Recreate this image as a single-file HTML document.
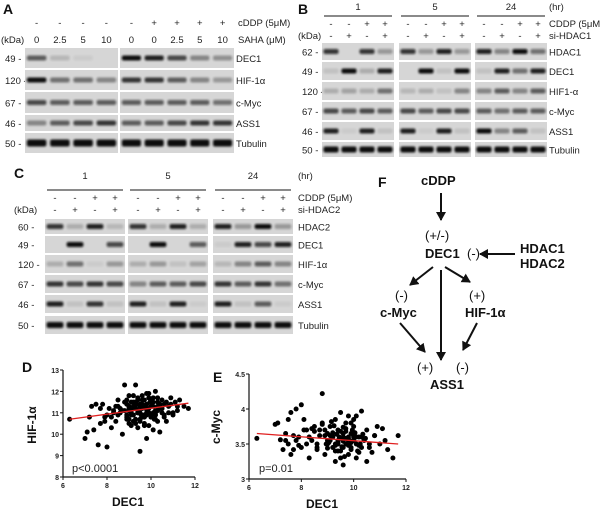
<!DOCTYPE html>
<html><head><meta charset="utf-8">
<style>
html,body{margin:0;padding:0;background:#fff;}
svg{display:block;font-family:"Liberation Sans",sans-serif;}
.t{font-size:9.5px;fill:#222;}
.l{font-size:14px;font-weight:bold;fill:#111;}
.f{font-size:13px;font-weight:bold;fill:#111;}
</style></head>
<body>
<svg id="fig" width="600" height="519" viewBox="0 0 600 519">
<defs>
<filter id="blur" x="-20%" y="-50%" width="140%" height="200%"><feGaussianBlur stdDeviation="1.1"/></filter>
<marker id="arr" markerUnits="userSpaceOnUse" markerWidth="10" markerHeight="10" refX="8" refY="5" orient="auto"><path d="M0,0 L9,5 L0,10 z" fill="#111"/></marker>
</defs>
<g id="blots"></g>
<g id="scatterD"></g>
<g id="scatterE"></g>
<g id="diagram">
<text class="l" x="378" y="187">F</text>
<text class="f" x="421" y="185">cDDP</text>
<line x1="441" y1="193" x2="441" y2="220" stroke="#111" stroke-width="2" marker-end="url(#arr)"/>
<text class="f" x="425" y="240" style="font-weight:normal">(+/-)</text>
<text class="f" x="425" y="258">DEC1</text>
<text class="f" x="467" y="258" style="font-weight:normal">(-)</text>
<line x1="515" y1="254" x2="480" y2="254" stroke="#111" stroke-width="2" marker-end="url(#arr)"/>
<text class="f" x="520" y="253">HDAC1</text>
<text class="f" x="520" y="268">HDAC2</text>
<line x1="433" y1="267" x2="410" y2="285" stroke="#111" stroke-width="2" marker-end="url(#arr)"/>
<line x1="445" y1="267" x2="470" y2="282" stroke="#111" stroke-width="2" marker-end="url(#arr)"/>
<line x1="441" y1="270" x2="441" y2="360" stroke="#111" stroke-width="2" marker-end="url(#arr)"/>
<text class="f" x="395" y="300" style="font-weight:normal">(-)</text>
<text class="f" x="380" y="317">c-Myc</text>
<text class="f" x="469" y="300" style="font-weight:normal">(+)</text>
<text class="f" x="465" y="317">HIF-1α</text>
<line x1="400" y1="323" x2="425" y2="352" stroke="#111" stroke-width="2" marker-end="url(#arr)"/>
<line x1="477" y1="323" x2="463" y2="350" stroke="#111" stroke-width="2" marker-end="url(#arr)"/>
<text class="f" x="417" y="372" style="font-weight:normal">(+)</text>
<text class="f" x="456" y="372" style="font-weight:normal">(-)</text>
<text class="f" x="430" y="389">ASS1</text>
</g>
</svg>
<script>
// ---- blot data ----
const aRows = ["DEC1","HIF-1α","c-Myc","ASS1","Tubulin"];
const aKda = ["49","120","67","46","50"];
const aLeft = [[0.6,0.15,0.05,0],[1,0.5,0.5,0.4],[0.7,0.6,0.6,0.6],[0.4,0.6,0.7,0.8],[1,1,1,1]];
const aRight = [[1,0.9,0.7,0.4,0.35],[0.8,0.8,0.6,0.4,0.3],[0.6,0.6,0.6,0.6,0.5],[0.6,0.6,0.7,0.8,0.8],[1,1,1,1,1]];
const bRows = ["HDAC1","DEC1","HIF1-α","c-Myc","ASS1","Tubulin"];
const bKda = ["62","49","120","67","46","50"];
const bVals = [
 [[.8,0,.8,.3],[.8,.3,.9,.3],[.9,.4,1,.5]],
 [[.1,1,.2,.9],[0,1,.1,1],[.1,.9,.5,.9]],
 [[.2,.25,.2,.5],[.15,.2,.1,.4],[.4,.6,.4,.6]],
 [[.7,.6,.7,.6],[.7,.6,.7,.7],[.6,.5,.6,.6]],
 [[.9,.05,.9,.1],[.9,.05,.9,.1],[1,.4,.6,.1]],
 [[1,1,1,1],[1,1,1,1],[1,1,1,1]]];
const cRows = ["HDAC2","DEC1","HIF-1α","c-Myc","ASS1","Tubulin"];
const cKda = ["60","49","120","67","46","50"];
const cVals = [
 [[.8,.2,.9,.15],[.8,.2,.9,.2],[.9,.3,1,.3]],
 [[0,1,0,.7],[0,1,0,.6],[.05,.9,.7,.9]],
 [[.2,.5,.05,.3],[.2,.3,.1,.25],[.15,.4,.6,.4]],
 [[.8,.7,.8,.7],[.4,.6,.6,.7],[.8,.6,.8,.5]],
 [[.9,.1,.8,.1],[.9,.1,.9,.05],[.9,.1,.6,.05]],
 [[1,1,1,1],[1,1,1,1],[1,1,1,1]]];
const timeLabels = ["1","5","24"];
// ---- scatter data ----
const dX = [6.3,7.0,7.1,7.2,7.3,7.4,7.5,7.6,7.7,7.8,7.9,8.0,8.0,8.1,8.2,8.3,8.4,8.5,8.5,8.6,8.7,8.8,8.8,8.9,8.9,9.0,9.0,9.1,9.1,9.2,9.2,9.3,9.3,9.4,9.4,9.5,9.5,9.5,9.6,9.6,9.7,9.7,9.8,9.8,9.9,9.9,10.0,10.0,10.1,10.1,10.2,10.2,10.3,10.3,10.4,10.4,10.5,10.6,10.7,10.8,10.9,11.0,11.1,11.2,11.3,11.5,11.7,8.9,9.2,9.4,9.6,9.8,10.0,10.2,9.0,9.3,9.5,9.7,9.9,10.1,8.7,9.1,9.4,9.6,9.8,10.3,10.5,10.0,9.2,9.5,8.6,9.9,10.6,9.3,9.7,8.4,9.0,10.2,10.8,
 8.8,8.9,9.0,9.1,9.2,9.3,9.4,9.5,9.6,9.7,9.8,9.9,10.0,10.1,10.2,10.3,10.4,10.5,10.6,10.7,8.9,9.1,9.3,9.5,9.7,9.9,10.1,10.3,10.5,9.0,9.2,9.4,9.6,9.8,10.0,10.2,10.4,10.9,11.0,11.2,8.2,8.5,7.7,7.9,8.3,9.35,9.55,9.75,9.95,10.15];
const dY = [10.7,9.8,10.1,10.8,11.3,10.2,11.4,9.5,10.5,11.4,10.8,9.4,10.9,11.2,10.3,11.0,10.6,10.9,11.6,11.2,10.0,11.5,12.3,10.7,11.4,10.5,11.8,11.1,10.4,11.5,10.9,12.3,11.2,10.3,11.7,9.2,11.0,10.6,11.6,10.8,11.3,10.5,9.8,11.9,11.0,10.4,11.6,10.8,11.3,10.2,12.0,11.1,10.6,11.5,11.2,10.1,11.0,11.4,10.6,11.3,11.7,11.0,11.5,11.1,11.6,11.3,11.2,10.9,11.3,11.0,11.2,11.4,10.9,11.0,11.1,11.4,11.3,10.9,11.2,11.5,11.1,11.0,11.6,11.4,11.0,11.7,11.2,10.8,11.8,10.7,11.0,11.9,10.9,10.5,10.4,11.3,10.7,10.9,11.0,
 11.1,10.8,11.3,11.5,11.2,10.7,11.0,11.4,10.9,11.6,11.2,11.0,11.3,11.7,10.9,11.1,11.4,11.2,10.8,11.5,11.6,10.9,11.5,11.3,10.8,11.7,11.0,11.3,11.6,11.2,10.6,11.1,11.8,10.9,11.5,10.7,11.3,11.4,10.9,11.3,10.8,11.3,11.2,10.6,11.1,11.4,10.9,11.2,11.5,10.7];
const eX = [6.3,7.0,7.1,7.2,7.3,7.4,7.5,7.5,7.6,7.7,7.8,7.9,8.0,8.0,8.1,8.2,8.3,8.4,8.5,8.6,8.7,8.8,8.8,8.9,9.0,9.0,9.1,9.2,9.2,9.3,9.3,9.4,9.4,9.5,9.5,9.6,9.6,9.7,9.7,9.8,9.8,9.9,9.9,10.0,10.0,10.1,10.1,10.2,10.3,10.3,10.4,10.5,10.5,10.6,10.7,10.8,10.9,11.0,11.1,11.2,11.3,11.5,11.7,9.0,9.2,9.4,9.6,9.8,10.0,10.2,9.1,9.3,9.5,9.7,9.9,8.9,9.6,10.1,9.4,9.8,7.6,7.8,8.2,8.6,
 8.7,8.9,9.1,9.3,9.5,9.7,9.9,10.1,10.3,8.8,9.0,9.2,9.4,9.6,9.8,10.0,10.2,10.4,8.5,8.6,8.4,9.35,9.55,9.75,9.95,10.15,9.05,9.25,9.45,9.65,9.85,10.05,10.25,10.6,10.8,8.3,8.1,7.9,7.4,7.7,9.15,9.5,9.9,10.35,8.95,9.3,9.7,10.0,10.45,9.6];
const eY = [3.58,3.78,3.8,3.56,3.42,3.65,3.85,3.5,3.95,3.42,4.0,3.6,4.06,3.45,3.85,3.7,3.3,3.55,3.75,3.5,3.62,4.22,3.8,3.35,3.65,3.5,3.75,3.45,3.6,3.85,3.25,3.55,3.7,3.4,3.95,3.2,3.6,3.5,3.8,3.35,3.9,3.65,3.45,3.55,3.75,3.3,3.9,3.6,3.45,3.97,3.55,3.25,3.7,3.5,3.38,3.62,3.75,3.5,3.72,3.55,3.42,3.3,3.62,3.55,3.6,3.5,3.65,3.55,3.6,3.48,3.62,3.5,3.58,3.68,3.52,3.7,3.45,3.6,3.4,3.6,3.35,3.55,3.5,3.45,
 3.7,3.62,3.55,3.48,3.68,3.58,3.42,3.5,3.6,3.78,3.44,3.66,3.52,3.74,3.48,3.62,3.38,3.56,3.68,3.42,3.72,3.64,3.46,3.58,3.7,3.4,3.52,3.76,3.6,3.32,3.55,3.66,3.5,3.45,3.62,3.6,3.7,3.48,3.55,3.62,3.82,3.3,3.8,3.64,3.5,3.4,3.72,3.85,3.58,3.54];
const dFit = [10.7,11.45];
const eFit = [3.65,3.5];

const NS="http://www.w3.org/2000/svg";
function mk(tag,attrs,parent){const e=document.createElementNS(NS,tag);for(const k in attrs)e.setAttribute(k,attrs[k]);parent.appendChild(e);return e;}
function txt(s,x,y,cls,parent,anchor){const e=mk("text",{x:x,y:y,class:cls||"t"},parent);if(anchor)e.setAttribute("text-anchor",anchor);e.textContent=s;return e;}
const blots=document.getElementById("blots");

function box(x,y,w,h,vals,bandH){
  const g=mk("g",{},blots);
  
  
  mk("rect",{x:x,y:y,width:w,height:h,fill:"#d6d6d6"},g);
  const n=vals.length, lw=w/n;
  vals.forEach((v,i)=>{
    if(v<=0)return;
    const b=mk("rect",{x:x+lw*i+lw*0.08,y:y+h/2-bandH/2,width:lw*0.84,height:bandH,rx:2,fill:"#111",opacity:Math.min(1,v),filter:"url(#blur)"},g);
    
    
  });
}
function signs(arr,x0,w,y,parent){const n=arr.length;arr.forEach((s,i)=>txt(s,x0+w/n*(i+0.5),y,"t",parent,"middle"));}

// Panel A
txt("A",3,14,"l",blots);
const aTop=[48,70,92,115,133], aH=[20,20,21,16,20];
const gA=mk("g",{},blots);
signs(["-","-","-","-"],25,93,26,gA);signs(["-","+","+","+","+"],120,114,26,gA);
signs(["0","2.5","5","10"],25,93,43,gA);signs(["0","0","2.5","5","10"],120,114,43,gA);
txt("cDDP (5μM)",238,26,"t",gA);txt("SAHA (μM)",238,43,"t",gA);txt("(kDa)",1,43,"t",gA);
aRows.forEach((r,i)=>{
  box(25,aTop[i],93,aH[i],aLeft[i],i==4?7:5);
  box(120,aTop[i],114,aH[i],aRight[i],i==4?7:5);
  txt(r,236,aTop[i]+aH[i]/2+4,"t",gA);
  txt(aKda[i]+" -",5,aTop[i]+aH[i]/2+4,"t",gA);
});

function panel(letter,lx,ly,x0s,ws,tops,hs,rows,kda,vals,kx,labx,timeY,lineY,s1y,s2y,siName){
  const g=mk("g",{},blots);
  txt(letter,lx,ly,"l",g);
  x0s.forEach((x,j)=>{
    txt(timeLabels[j],x+ws/2,timeY,"t",g,"middle");
    mk("line",{x1:x+2,y1:lineY,x2:x+ws-2,y2:lineY,stroke:"#444","stroke-width":1.2},g);
    signs(["-","-","+","+"],x,ws,s1y,g);signs(["-","+","-","+"],x,ws,s2y,g);
    rows.forEach((r,i)=>box(x,tops[i],ws,hs[i],vals[i][j],i==5?6:5));
  });
  txt("(hr)",labx,timeY,"t",g);txt("CDDP (5μM)",labx,s1y,"t",g);txt(siName,labx,s2y,"t",g);
  txt("(kDa)",kx-4,s2y,"t",g);
  rows.forEach((r,i)=>{txt(r,labx,tops[i]+hs[i]/2+4,"t",g);txt(kda[i]+" -",kx,tops[i]+hs[i]/2+4,"t",g);});
}
panel("B",298,14,[322,399,475],72,[43,62,82,102,122,142],[17,18,18,18,18,15],bRows,bKda,bVals,302,549,10,16,27,39,"si-HDAC1");
panel("C",14,178,[45,128,213],80,[219,236,255,275,295,316],[15,17,18,18,18,18],cRows,cKda,cVals,18,298,179,190,201,213,"si-HDAC2");

function scatter(gid,xs,ys,fit,x0,x1,y0,y1,xmin,xmax,ymin,ymax,yticks,xticks,letter,lx,ly,ylab,ylx,yly,ptxt,px,py,xlx,xly){
  const g=document.getElementById(gid);
  const sx=v=>x0+(v-xmin)/(xmax-xmin)*(x1-x0), sy=v=>y0-(v-ymin)/(ymax-ymin)*(y0-y1);
  txt(letter,lx,ly,"l",g);
  mk("line",{x1:x0,y1:y0,x2:x1,y2:y0,stroke:"#111","stroke-width":1.2},g);
  mk("line",{x1:x0,y1:y0,x2:x0,y2:y1,stroke:"#111","stroke-width":1.2},g);
  yticks.forEach(t=>{mk("line",{x1:x0-3,y1:sy(t),x2:x0,y2:sy(t),stroke:"#111"},g);const e=txt(String(t),x0-4,sy(t)+3,"t",g,"end");e.style.fontSize="7px";e.style.fontWeight="bold";});
  xticks.forEach(t=>{mk("line",{x1:sx(t),y1:y0,x2:sx(t),y2:y0+3,stroke:"#111"},g);const e=txt(String(t),sx(t),y0+11,"t",g,"middle");e.style.fontSize="7px";e.style.fontWeight="bold";});
  xs.forEach((v,i)=>{const c=mk("circle",{cx:sx(v),cy:sy(ys[i]),r:2.5,fill:"#000"},g);
    
    });
  const fl=mk("line",{x1:sx(xs[0]),y1:sy(fit[0]),x2:sx(xmax-0.3),y2:sy(fit[1]),stroke:"#e02020","stroke-width":1.3},g);
  
  
  const yl=txt(ylab,ylx,yly,"f",g,"middle");yl.setAttribute("transform","rotate(-90 "+ylx+" "+yly+")");yl.style.fontSize="12px";
  const p=txt(ptxt,px,py,"t",g);p.style.fontSize="11px";
  const xl=txt("DEC1",xlx,xly,"f",g,"middle");xl.style.fontSize="12px";
}
scatter("scatterD",dX,dY,dFit,63,195,477,370,6,12,8,13,[8,9,10,11,12,13],[6,8,10,12],"D",22,372,"HIF-1α",36,425,"p<0.0001",72,472,128,506);
scatter("scatterE",eX,eY,eFit,249,406,479,374,6,12,3.0,4.5,[3.0,3.5,4.0,4.5],[6,8,10,12],"E",213,382,"c-Myc",220,427,"p=0.01",259,472,322,508);
</script>
</body></html>
